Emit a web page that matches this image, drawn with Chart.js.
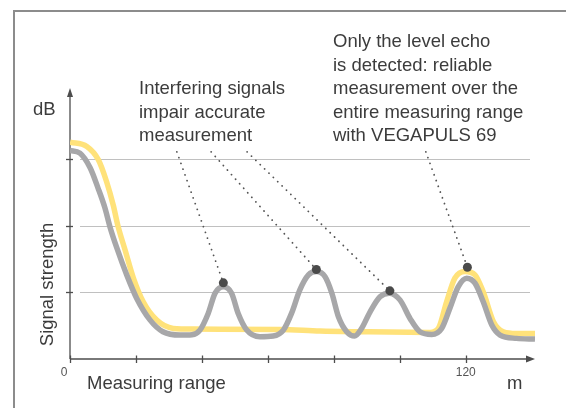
<!DOCTYPE html>
<html>
<head>
<meta charset="utf-8">
<script src="https://cdn.jsdelivr.net/npm/chart.js@4/dist/chart.umd.min.js"></script>
<style>
html,body{margin:0;padding:0;background:#fff;}
#wrap{width:566px;height:408px;position:relative;}
</style>
</head>
<body>
<div id="wrap"><canvas id="c" width="566" height="408"></canvas></div>
<script>
// Measuring range (m) and signal strength (dB, arbitrary)
const grayX = [0, 3.0, 6.1, 8.5, 10.6, 12.1, 14.2, 17.2, 20.2, 24.3, 28.2, 33.4, 37.0, 39.4, 41.9, 44.0, 46.5, 49.0, 51.0, 53.6, 57.6, 61.6, 64.7, 67.2, 69.7, 72.3, 74.8, 77.3, 79.4, 81.4, 83.9, 86.3, 88.3, 91.0, 94.0, 96.8, 100.1, 103.1, 106.1, 109.7, 112.7, 115.2, 117.7, 120.3, 122.8, 125.3, 127.9, 130.4, 135.4, 141];
const grayY = [62.7, 61.9, 57.5, 51.4, 45.4, 39.8, 33.4, 25.3, 18.3, 11.7, 8.2, 7.2, 7.3, 8.7, 13.7, 19.8, 21.7, 19.8, 13.7, 8.7, 6.7, 6.9, 8.7, 13.8, 20.8, 25.3, 26.3, 24.8, 19.8, 12.7, 8.2, 6.9, 9.0, 14.2, 18.7, 19.8, 17.7, 12.2, 8.2, 7.4, 9.2, 15.3, 21.7, 24.3, 22.8, 17.2, 10.2, 7.2, 6.2, 6.0];
const yellowX = [0, 5.1, 8.6, 11.1, 13.1, 14.6, 16.7, 19.2, 22.2, 26.3, 31.3, 37.4, 63.7, 75.8, 87.9, 109.2, 111.7, 114.2, 116.7, 119.8, 122.8, 125.3, 128.4, 131.4, 135.4, 141];
const yellowY = [65.2, 63.9, 59.9, 53.3, 46.3, 39.8, 32.8, 24.4, 17.2, 11.7, 9.2, 9.0, 8.9, 8.4, 8.2, 8.0, 9.2, 17.2, 24.3, 26.3, 25.3, 20.2, 11.2, 8.2, 7.7, 7.7];
// Marked peaks (dots) and where the pointer lines start
const peakX = [46.5, 74.7, 97.0, 120.5];
const peakY = [22.9, 26.9, 20.5, 27.6];
const pointerStartX = [32.4, 42.8, 53.7, 107.9];
const pointerStartY = [62.3, 62.3, 62.3, 62.3];
// Axes
const xTicks = [0, 20, 40, 60, 80, 100, 120];
const xTickLabels = ['0', '', '', '', '', '', '120'];
const yGrid = [20, 40, 60];
const xMax = 141, yMax = 81.5;
// Texts
const leftNote = ['Interfering signals', 'impair accurate', 'measurement'];
const rightNote = ['Only the level echo', 'is detected: reliable', 'measurement over the', 'entire measuring range', 'with VEGAPULS 69'];
const yTitle = 'Signal strength';
const yUnit = 'dB';
const xTitle = 'Measuring range';
const xUnit = 'm';

const zip = (xs, ys) => xs.map((x, i) => ({x: x, y: ys[i]}));

const FONT = '"Liberation Sans", Arial, Helvetica, sans-serif';
const TEXT = '#3c3c3c';

const datasets = [];
datasets.push({
  label: 'peaks', type: 'scatter', data: zip(peakX, peakY),
  pointRadius: 4.5, pointBackgroundColor: '#4a4a4a', pointBorderWidth: 0, showLine: false
});
pointerStartX.forEach((sx, i) => {
  datasets.push({
    label: 'pointer' + i, data: [{x: sx, y: pointerStartY[i]}, {x: peakX[i], y: peakY[i]}],
    borderColor: '#555', borderWidth: 1.8, borderDash: [0.1, 6], borderCapStyle: 'round',
    pointRadius: 0, fill: false, tension: 0
  });
});
datasets.push({
  label: 'gray', data: zip(grayX, grayY), borderColor: '#a7a7a9', borderWidth: 5.5,
  pointRadius: 0, fill: false, cubicInterpolationMode: 'monotone', borderJoinStyle: 'round'
});
datasets.push({
  label: 'yellow', data: zip(yellowX, yellowY), borderColor: '#ffe27a', borderWidth: 5.5,
  pointRadius: 0, fill: false, cubicInterpolationMode: 'monotone', borderJoinStyle: 'round'
});

const decor = {
  id: 'decor',
  beforeDatasetsDraw(chart) {
    const ctx = chart.ctx, xs = chart.scales.x, ys = chart.scales.y;
    const x0 = xs.getPixelForValue(0), y0 = ys.getPixelForValue(0);
    const xEnd = xs.getPixelForValue(xMax), yTop = ys.getPixelForValue(yMax);
    ctx.save();
    // frame
    ctx.strokeStyle = '#8c8c8c'; ctx.lineWidth = 2;
    ctx.beginPath(); ctx.moveTo(14, 420); ctx.lineTo(14, 11); ctx.lineTo(580, 11); ctx.stroke();
    // grid
    ctx.strokeStyle = '#c0c0c0'; ctx.lineWidth = 1.2;
    yGrid.forEach(v => {
      const y = Math.round(ys.getPixelForValue(v)) + 0.5;
      ctx.beginPath(); ctx.moveTo(x0 + 10, y); ctx.lineTo(xEnd - 5, y); ctx.stroke();
    });
    // axes
    ctx.strokeStyle = '#4d4d4d'; ctx.fillStyle = '#4d4d4d'; ctx.lineWidth = 1.3;
    ctx.beginPath(); ctx.moveTo(x0, y0); ctx.lineTo(x0, yTop + 6); ctx.stroke();
    ctx.beginPath(); ctx.moveTo(x0, yTop); ctx.lineTo(x0 - 3, yTop + 9); ctx.lineTo(x0 + 3, yTop + 9); ctx.closePath(); ctx.fill();
    ctx.beginPath(); ctx.moveTo(x0, y0); ctx.lineTo(xEnd - 6, y0); ctx.stroke();
    ctx.beginPath(); ctx.moveTo(xEnd, y0); ctx.lineTo(xEnd - 9, y0 - 3.5); ctx.lineTo(xEnd - 9, y0 + 3.5); ctx.closePath(); ctx.fill();
    // ticks
    xTicks.forEach(v => {
      const x = Math.round(xs.getPixelForValue(v)) + 0.5;
      ctx.beginPath(); ctx.moveTo(x, y0 - 3.5); ctx.lineTo(x, y0 + 4); ctx.stroke();
    });
    yGrid.forEach(v => {
      const y = Math.round(ys.getPixelForValue(v)) + 0.5;
      ctx.beginPath(); ctx.moveTo(x0 - 4, y); ctx.lineTo(x0 + 3, y); ctx.stroke();
    });
    ctx.restore();
  },
  afterDraw(chart) {
    const ctx = chart.ctx, xs = chart.scales.x;
    ctx.save();
    ctx.textBaseline = 'alphabetic';
    // tick labels
    ctx.fillStyle = '#555'; ctx.font = '12px ' + FONT; ctx.textAlign = 'center';
    xTicks.forEach((v, i) => {
      if (xTickLabels[i]) ctx.fillText(xTickLabels[i], xs.getPixelForValue(v) - (v === 0 ? 6 : 0), 376);
    });
    ctx.fillStyle = TEXT; ctx.font = '18.5px ' + FONT; ctx.textAlign = 'left';
    ctx.fillText(xTitle, 87, 389);
    ctx.fillText(xUnit, 507, 389);
    ctx.fillText(yUnit, 33, 115);
    leftNote.forEach((t, i) => ctx.fillText(t, 139, 94 + i * 23.6));
    rightNote.forEach((t, i) => ctx.fillText(t, 333, 47 + i * 23.6));
    ctx.translate(53, 284.5); ctx.rotate(-Math.PI / 2);
    ctx.textAlign = 'center';
    ctx.fillText(yTitle, 0, 0);
    ctx.restore();
  }
};

new Chart(document.getElementById('c'), {
  type: 'line',
  data: {datasets: datasets},
  options: {
    responsive: false, animation: false, devicePixelRatio: 1,
    layout: {padding: {left: 70, right: 31, top: 88, bottom: 49}},
    plugins: {legend: {display: false}, tooltip: {enabled: false}},
    scales: {
      x: {type: 'linear', min: 0, max: xMax, display: false},
      y: {type: 'linear', min: 0, max: yMax, display: false}
    }
  },
  plugins: [decor]
});
</script>
</body>
</html>
